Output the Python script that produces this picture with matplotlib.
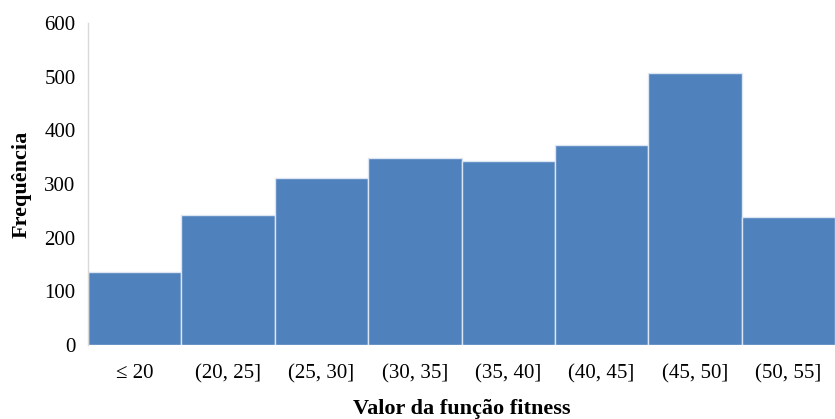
import matplotlib
matplotlib.use("Agg")
import matplotlib.pyplot as plt
import numpy as np

categories = ["≤ 20", "(20, 25]", "(25, 30]", "(30, 35]", "(35, 40]", "(40, 45]", "(45, 50]", "(50, 55]"]
frequencies = [136, 243, 312, 348, 343, 372, 506, 238]
y_ticks = [0, 100, 200, 300, 400, 500, 600]

plt.rcParams['font.family'] = ['Liberation Serif', 'DejaVu Serif']

fig = plt.figure(figsize=(8.35, 4.19), dpi=100)
ax = fig.add_axes([88 / 835, 74 / 419, 1 - 88 / 835, (345 - 23) / 419])

x = np.arange(len(categories))
ax.bar(x, frequencies, width=1.0, color="#4F81BD", edgecolor="#DCE6F2", linewidth=1.0)

ax.set_xlim(-0.5, len(categories) - 0.5)
ax.set_ylim(0, 600)
ax.set_yticks(y_ticks)
ax.set_xticks(x)
ax.set_xticklabels(categories)

ax.tick_params(axis='both', length=0, labelsize=15)
ax.tick_params(axis='y', pad=9)
ax.tick_params(axis='x', pad=14)

for side in ("top", "right", "bottom"):
    ax.spines[side].set_visible(False)
ax.spines["left"].set_color("#D9D9D9")
ax.spines["left"].set_linewidth(1.0)

ax.set_ylabel("Frequência", fontsize=16, fontweight="bold", labelpad=9)
ax.set_xlabel("Valor da função fitness", fontsize=16, fontweight="bold", labelpad=11)

fig.savefig("out.png", dpi=100)
